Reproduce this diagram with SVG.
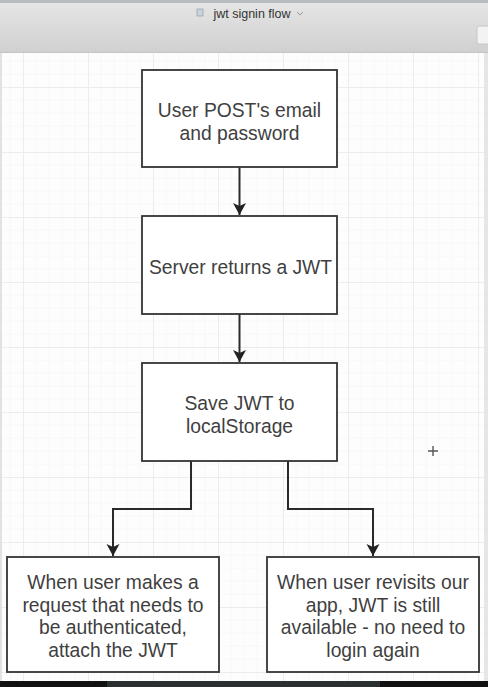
<svg xmlns="http://www.w3.org/2000/svg" width="488" height="687" viewBox="0 0 488 687">
  <defs>
    <linearGradient id="bar" x1="0" y1="0" x2="0" y2="1">
      <stop offset="0" stop-color="#e6e6e6"/>
      <stop offset="1" stop-color="#d0d0d0"/>
    </linearGradient>
    <pattern id="grid" patternUnits="userSpaceOnUse" x="23" y="22" width="65" height="65">
      <path d="M13,0V65M26,0V65M39,0V65M52,0V65M0,13H65M0,26H65M0,39H65M0,52H65" stroke="#f7f8f7" stroke-width="1" fill="none"/>
      <path d="M0.5,0V65M0,0.5H65" stroke="#eceeec" stroke-width="1" fill="none"/>
    </pattern>
    <marker id="arrow" markerUnits="userSpaceOnUse" markerWidth="14" markerHeight="14" refX="12" refY="6.5" orient="auto">
      <path d="M0,0 L12,6.5 L0,13 L3,6.5 Z" fill="#222"/>
    </marker>
    <style>
      .box { fill: #ffffff; stroke: #333333; stroke-width: 1.8; }
      .lbl { font-family: "Liberation Sans", Arial, sans-serif; font-size: 19.3px; fill: #3f3f3f; text-anchor: middle; }
      .edge { fill: none; stroke: #2a2a2a; stroke-width: 2; }
    </style>
  </defs>

  <!-- window chrome -->
  <rect x="0" y="0" width="488" height="53" fill="url(#bar)"/>
  <rect x="0" y="0" width="488" height="3" fill="#b9bcbe"/>
  <rect x="0" y="52" width="488" height="1" fill="#c4c4c4"/>
  <g id="title">
    <rect x="197" y="9" width="6" height="7" fill="#c8d3dc" stroke="#8896a3" stroke-width="0.6"/>
    <text x="252" y="17.5" font-family="Liberation Sans, Arial, sans-serif" font-size="12.5" fill="#333" text-anchor="middle">jwt signin flow</text>
    <path d="M297,12 L300,15 L303,12" fill="none" stroke="#888" stroke-width="0.8"/>
  </g>
  <rect x="477" y="26" width="14" height="18" rx="2" fill="#f3f3f3" stroke="#c6c6c6" stroke-width="1"/>

  <!-- canvas -->
  <rect x="0" y="53" width="488" height="628" fill="#fdfdfd"/>
  <rect x="0" y="53" width="488" height="628" fill="url(#grid)"/>
  <rect x="0" y="53" width="2" height="628" fill="#e2e2e2"/>
  <rect x="484" y="53" width="4" height="628" fill="#e6e6e6"/>

  <!-- bottom strip -->
  <rect x="0" y="681" width="488" height="6" fill="#111"/>
  <rect x="107" y="681" width="273" height="6" fill="#2a3030"/>

  <!-- cursor cross -->
  <path d="M428,451H438M433,446V456" stroke="#555" stroke-width="1.4"/>

  <!-- connectors -->
  <g id="connectors">
    <path class="edge" d="M239.5,167V215" marker-end="url(#arrow)"/>
    <path class="edge" d="M239.5,314V362" marker-end="url(#arrow)"/>
    <path class="edge" d="M191,461V509H113V556" marker-end="url(#arrow)"/>
    <path class="edge" d="M288,461V509H373V556" marker-end="url(#arrow)"/>
  </g>

  <!-- nodes -->
  <g id="node-post">
    <rect class="box" x="142" y="70" width="195" height="97"/>
    <text class="lbl" x="239.5" y="117">User POST's email</text>
    <text class="lbl" x="239.5" y="140">and password</text>
  </g>
  <g id="node-server">
    <rect class="box" x="142" y="216" width="195" height="98"/>
    <text class="lbl" x="240.5" y="274">Server returns a JWT</text>
  </g>
  <g id="node-save">
    <rect class="box" x="142" y="363" width="195" height="98"/>
    <text class="lbl" x="239.5" y="410">Save JWT to</text>
    <text class="lbl" x="239.5" y="433">localStorage</text>
  </g>
  <g id="node-request">
    <rect class="box" x="7" y="557" width="212" height="115"/>
    <text class="lbl" x="113" y="589">When user makes a</text>
    <text class="lbl" x="113" y="611.5">request that needs to</text>
    <text class="lbl" x="113" y="634">be authenticated,</text>
    <text class="lbl" x="113" y="656.5">attach the JWT</text>
  </g>
  <g id="node-revisit">
    <rect class="box" x="267" y="557" width="212" height="115"/>
    <text class="lbl" x="373" y="589">When user revisits our</text>
    <text class="lbl" x="373" y="611.5">app, JWT is still</text>
    <text class="lbl" x="373" y="634">available - no need to</text>
    <text class="lbl" x="373" y="656.5">login again</text>
  </g>
</svg>
